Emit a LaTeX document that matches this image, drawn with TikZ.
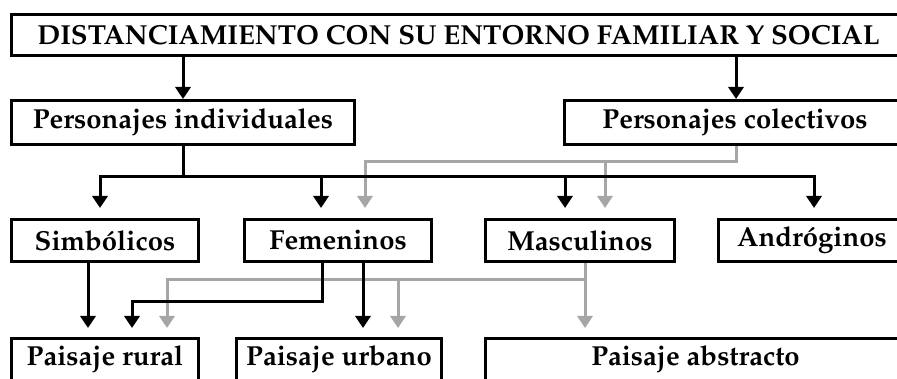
\documentclass[tikz,border=0pt]{standalone}
\usepackage[T1]{fontenc}
\renewcommand{\rmdefault}{ppl}
\usetikzlibrary{arrows.meta}
\definecolor{linegray}{RGB}{166,166,166}
\begin{document}
\begin{tikzpicture}[x=1pt, y=-1pt, >={Triangle[width=15pt,length=12pt]}, line width=3pt,
  box/.style={draw, rectangle, inner sep=0pt, font=\fontsize{27.5}{32}\selectfont\bfseries},
  grayline/.style={draw=linegray, line width=3pt}]

\useasboundingbox (0,0) rectangle (897,379);
\clip (0,0) rectangle (897,379);

\node[box, minimum width=894pt, minimum height=41pt] (title) at (458.5,35) {DISTANCIAMIENTO CON SU ENTORNO FAMILIAR Y SOCIAL};
\node[box, minimum width=343pt, minimum height=44pt] (indiv) at (183,122.5) {Personajes individuales};
\node[box, minimum width=341pt, minimum height=44pt] (colect) at (735,122.5) {Personajes colectivos};

\node[box, minimum width=187pt, minimum height=42pt] (simb) at (105,240.5) {Simb\'olicos};
\node[box, minimum width=187pt, minimum height=42pt] (fem) at (338,240.5) {Femeninos};
\node[box, minimum width=189pt, minimum height=42pt] (masc) at (580,240.5) {Masculinos};
\node[box, minimum width=187pt, minimum height=42pt] (andro) at (812,240.5) {Andr\'oginos};

\node[box, minimum width=187pt, minimum height=42pt] (rural) at (105,359.5) {Paisaje rural};
\node[box, minimum width=205pt, minimum height=42pt] (urbano) at (339,359.5) {Paisaje urbano};
\node[box, minimum width=420pt, minimum height=42pt] (abstr) at (695.5,359.5) {Paisaje abstracto};

\coordinate (gbus) at (0,162);
\coordinate (bus) at (0,177);
\coordinate (gbus2) at (0,280);
\coordinate (lbus) at (0,302);

\draw[->] (indiv.north |- title.south) -- (indiv.north);
\draw[->] ([xshift=1pt]colect.north |- title.south) -- ([xshift=1pt]colect.north);

\draw[grayline, ->, shorten >=10pt] ([xshift=1pt]colect.south) -- ([xshift=1pt]colect.south |- gbus) -| ([xshift=27pt]fem.north);
\draw[grayline, ->, shorten >=10pt] ([xshift=25pt]masc.north |- gbus) -- ([xshift=25pt]masc.north);

\draw[->, shorten >=10pt] (indiv.south) -- (indiv.south |- bus) -| ([xshift=-5pt]simb.north);
\draw[->, shorten >=10pt] (indiv.south |- bus) -| ([xshift=2pt]andro.north);
\draw[->, shorten >=10pt] ([xshift=-17pt]fem.north |- bus) -- ([xshift=-17pt]fem.north);
\draw[->, shorten >=10pt] ([xshift=-15pt]masc.north |- bus) -- ([xshift=-15pt]masc.north);

\draw[grayline, ->, shorten >=9pt] ([xshift=5pt]masc.south) -- ([xshift=5pt]masc.south |- abstr.north);
\draw[grayline, ->, shorten >=9pt] ([xshift=5pt]masc.south |- gbus2) -| ([xshift=62pt]rural.north);
\draw[grayline, ->, shorten >=9pt] ([xshift=59pt]urbano.north |- gbus2) -- ([xshift=59pt]urbano.north);

\draw[->, shorten >=9pt] ([xshift=-17pt]simb.south) -- ([xshift=-17pt]rural.north);
\draw[->, shorten >=9pt] ([xshift=-16pt]fem.south) -- ([xshift=-16pt]fem.south |- lbus) -| ([xshift=27pt]rural.north);
\draw[->, shorten >=9pt] ([xshift=25pt]fem.south) -- ([xshift=25pt]fem.south |- urbano.north);

\end{tikzpicture}
\end{document}
